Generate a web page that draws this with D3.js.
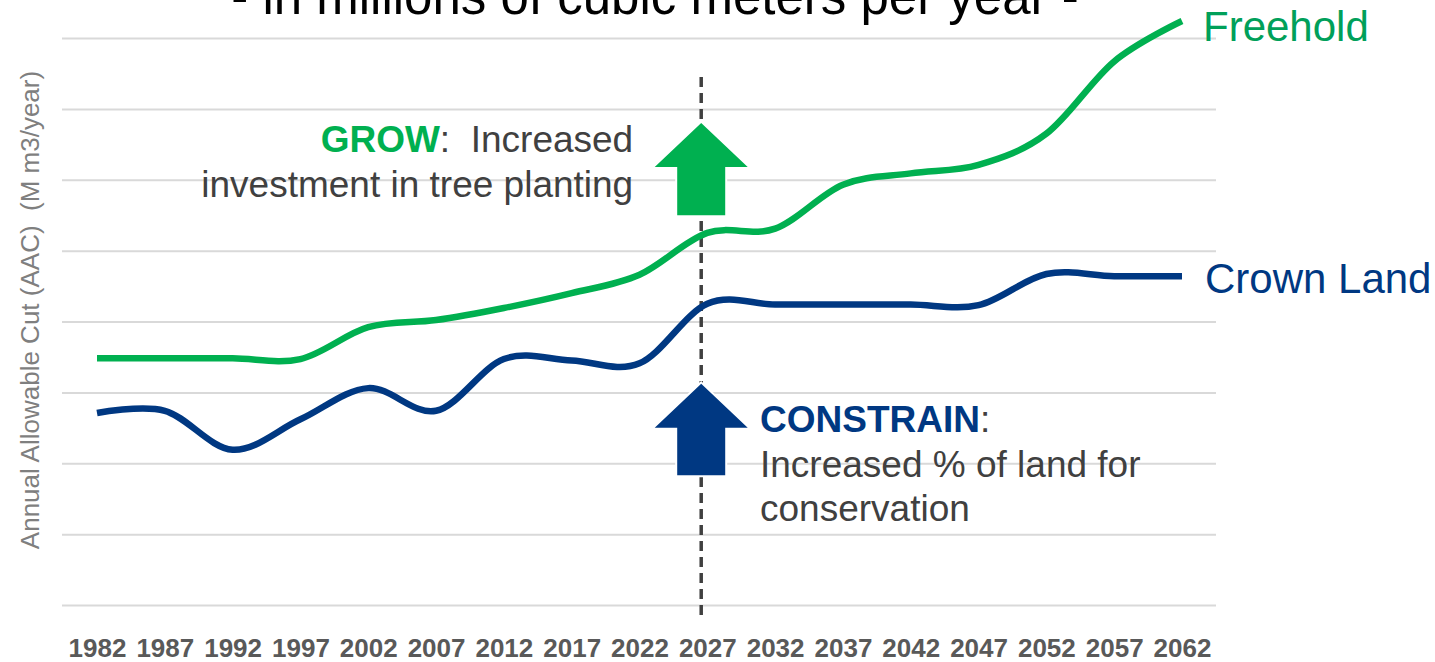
<!DOCTYPE html>
<html>
<head>
<meta charset="utf-8">
<script src="https://cdn.jsdelivr.net/npm/d3@7"></script>
<style>
  html, body { margin: 0; padding: 0; background: #fff; }
  svg { display: block; font-family: "Liberation Sans", Arial, sans-serif; }
</style>
</head>
<body>
<svg id="chart" width="1435" height="662"></svg>
<script>
// ---------------- data ----------------
const years = [1982, 1987, 1992, 1997, 2002, 2007, 2012, 2017, 2022, 2027, 2032, 2037, 2042, 2047, 2052, 2057, 2062];
const freehold = [3.48, 3.48, 3.48, 3.47, 3.92, 4.02, 4.19, 4.40, 4.66, 5.25, 5.31, 5.93, 6.09, 6.21, 6.65, 7.67, 8.24];
const crownLand = [2.71, 2.74, 2.19, 2.62, 3.06, 2.74, 3.47, 3.45, 3.41, 4.25, 4.24, 4.24, 4.24, 4.23, 4.67, 4.64, 4.64];
const gridTicks = [0, 1, 2, 3, 4, 5, 6, 7, 8];
const seriesNames = ["Freehold", "Crown Land"];
const titleText = "- in millions of cubic meters per year -";
const yAxisTitle = "Annual Allowable Cut (AAC)  (M m3/year)";
const divideYear = 2026.55;
const growArrow = { tip: 6.80, base: 5.50 };
const constrainArrow = { tip: 3.12, base: 1.83 };

// ---------------- layout ----------------
const svg = d3.select("#chart");
const green = "#00b050", navy = "#003882", textGrey = "#404040";

const x = d3.scaleLinear().domain([1982, 2062]).range([97, 1182]);
const y = d3.scaleLinear().domain([0, 8]).range([605, 38]);

// gridlines
const grid = svg.append("g").attr("transform", "translate(62,0)")
  .call(d3.axisLeft(y).tickValues(gridTicks).tickSize(-1154).tickFormat(""));
grid.select(".domain").remove();
grid.selectAll(".tick line").attr("stroke", "#d9d9d9").attr("stroke-width", 2);

// x axis labels
const xAxis = svg.append("g").attr("transform", "translate(0,632)")
  .call(d3.axisBottom(x).tickValues(years).tickFormat(d3.format("d")).tickSize(0).tickPadding(0));
xAxis.select(".domain").remove();
xAxis.selectAll("text")
  .attr("dy", null).attr("y", 25)
  .attr("fill", "#595959").attr("font-size", 26).attr("font-weight", "bold")
  .attr("font-family", "'Liberation Sans', Arial, sans-serif");

// title (partially cut at the top)
svg.append("text").attr("x", 655).attr("y", 14).attr("text-anchor", "middle")
  .attr("font-size", 51).attr("fill", "#000").text(titleText);

// y axis title
svg.append("text").attr("transform", "translate(39,310) rotate(-90)")
  .attr("text-anchor", "middle").attr("font-size", 26).attr("fill", "#7f7f7f")
  .style("white-space", "pre").text(yAxisTitle);

// dashed divider
svg.append("line")
  .attr("x1", x(divideYear)).attr("x2", x(divideYear))
  .attr("y1", y(7.45)).attr("y2", y(-0.18))
  .attr("stroke", "#404040").attr("stroke-width", 3.5).attr("stroke-dasharray", "10,6");

// lines
const line = d3.line().x((d, i) => x(years[i])).y(d => y(d)).curve(d3.curveCardinal.tension(0));
svg.append("path").datum(crownLand).attr("d", line)
  .attr("fill", "none").attr("stroke", navy).attr("stroke-width", 6.5);
svg.append("path").datum(freehold).attr("d", line)
  .attr("fill", "none").attr("stroke", green).attr("stroke-width", 6.5);

// series labels
svg.append("text").attr("x", x(2062) + 21).attr("y", y(freehold[16]) + 20)
  .attr("font-size", 42).attr("fill", "#00a05a").text(seriesNames[0]);
svg.append("text").attr("x", x(2062) + 23).attr("y", y(crownLand[16]) + 17)
  .attr("font-size", 42).attr("fill", navy).text(seriesNames[1]);

// arrows
function arrow(spec, color) {
  const cx = x(divideYear), tipY = y(spec.tip), baseY = y(spec.base);
  const headY = tipY + 44;
  const pts = [[cx, tipY], [cx + 46.5, headY], [cx + 24, headY], [cx + 24, baseY],
               [cx - 24, baseY], [cx - 24, headY], [cx - 46.5, headY]];
  svg.append("polygon").attr("points", pts.map(p => p.join(",")).join(" "))
    .attr("fill", color).attr("stroke", "#fff").attr("stroke-width", 4)
    .attr("stroke-linejoin", "miter").style("paint-order", "stroke");
}
arrow(growArrow, green);
arrow(constrainArrow, navy);

// annotations
const growT = svg.append("text").attr("x", x(divideYear) - 68).attr("y", 152)
  .attr("text-anchor", "end").attr("font-size", 37).attr("fill", textGrey).style("white-space", "pre");
growT.append("tspan").attr("font-weight", "bold").attr("fill", green).text("GROW");
growT.append("tspan").text(":  Increased");
svg.append("text").attr("x", x(divideYear) - 68).attr("y", 197)
  .attr("text-anchor", "end").attr("font-size", 37).attr("fill", textGrey).text("investment in tree planting");

const conT = svg.append("text").attr("x", 760).attr("y", 432)
  .attr("font-size", 37).attr("fill", textGrey);
conT.append("tspan").attr("font-weight", "bold").attr("fill", navy).text("CONSTRAIN");
conT.append("tspan").text(":");
svg.append("text").attr("x", 760).attr("y", 477).attr("font-size", 37).attr("fill", textGrey)
  .text("Increased % of land for");
svg.append("text").attr("x", 760).attr("y", 521).attr("font-size", 37).attr("fill", textGrey)
  .text("conservation");
</script>
</body>
</html>
